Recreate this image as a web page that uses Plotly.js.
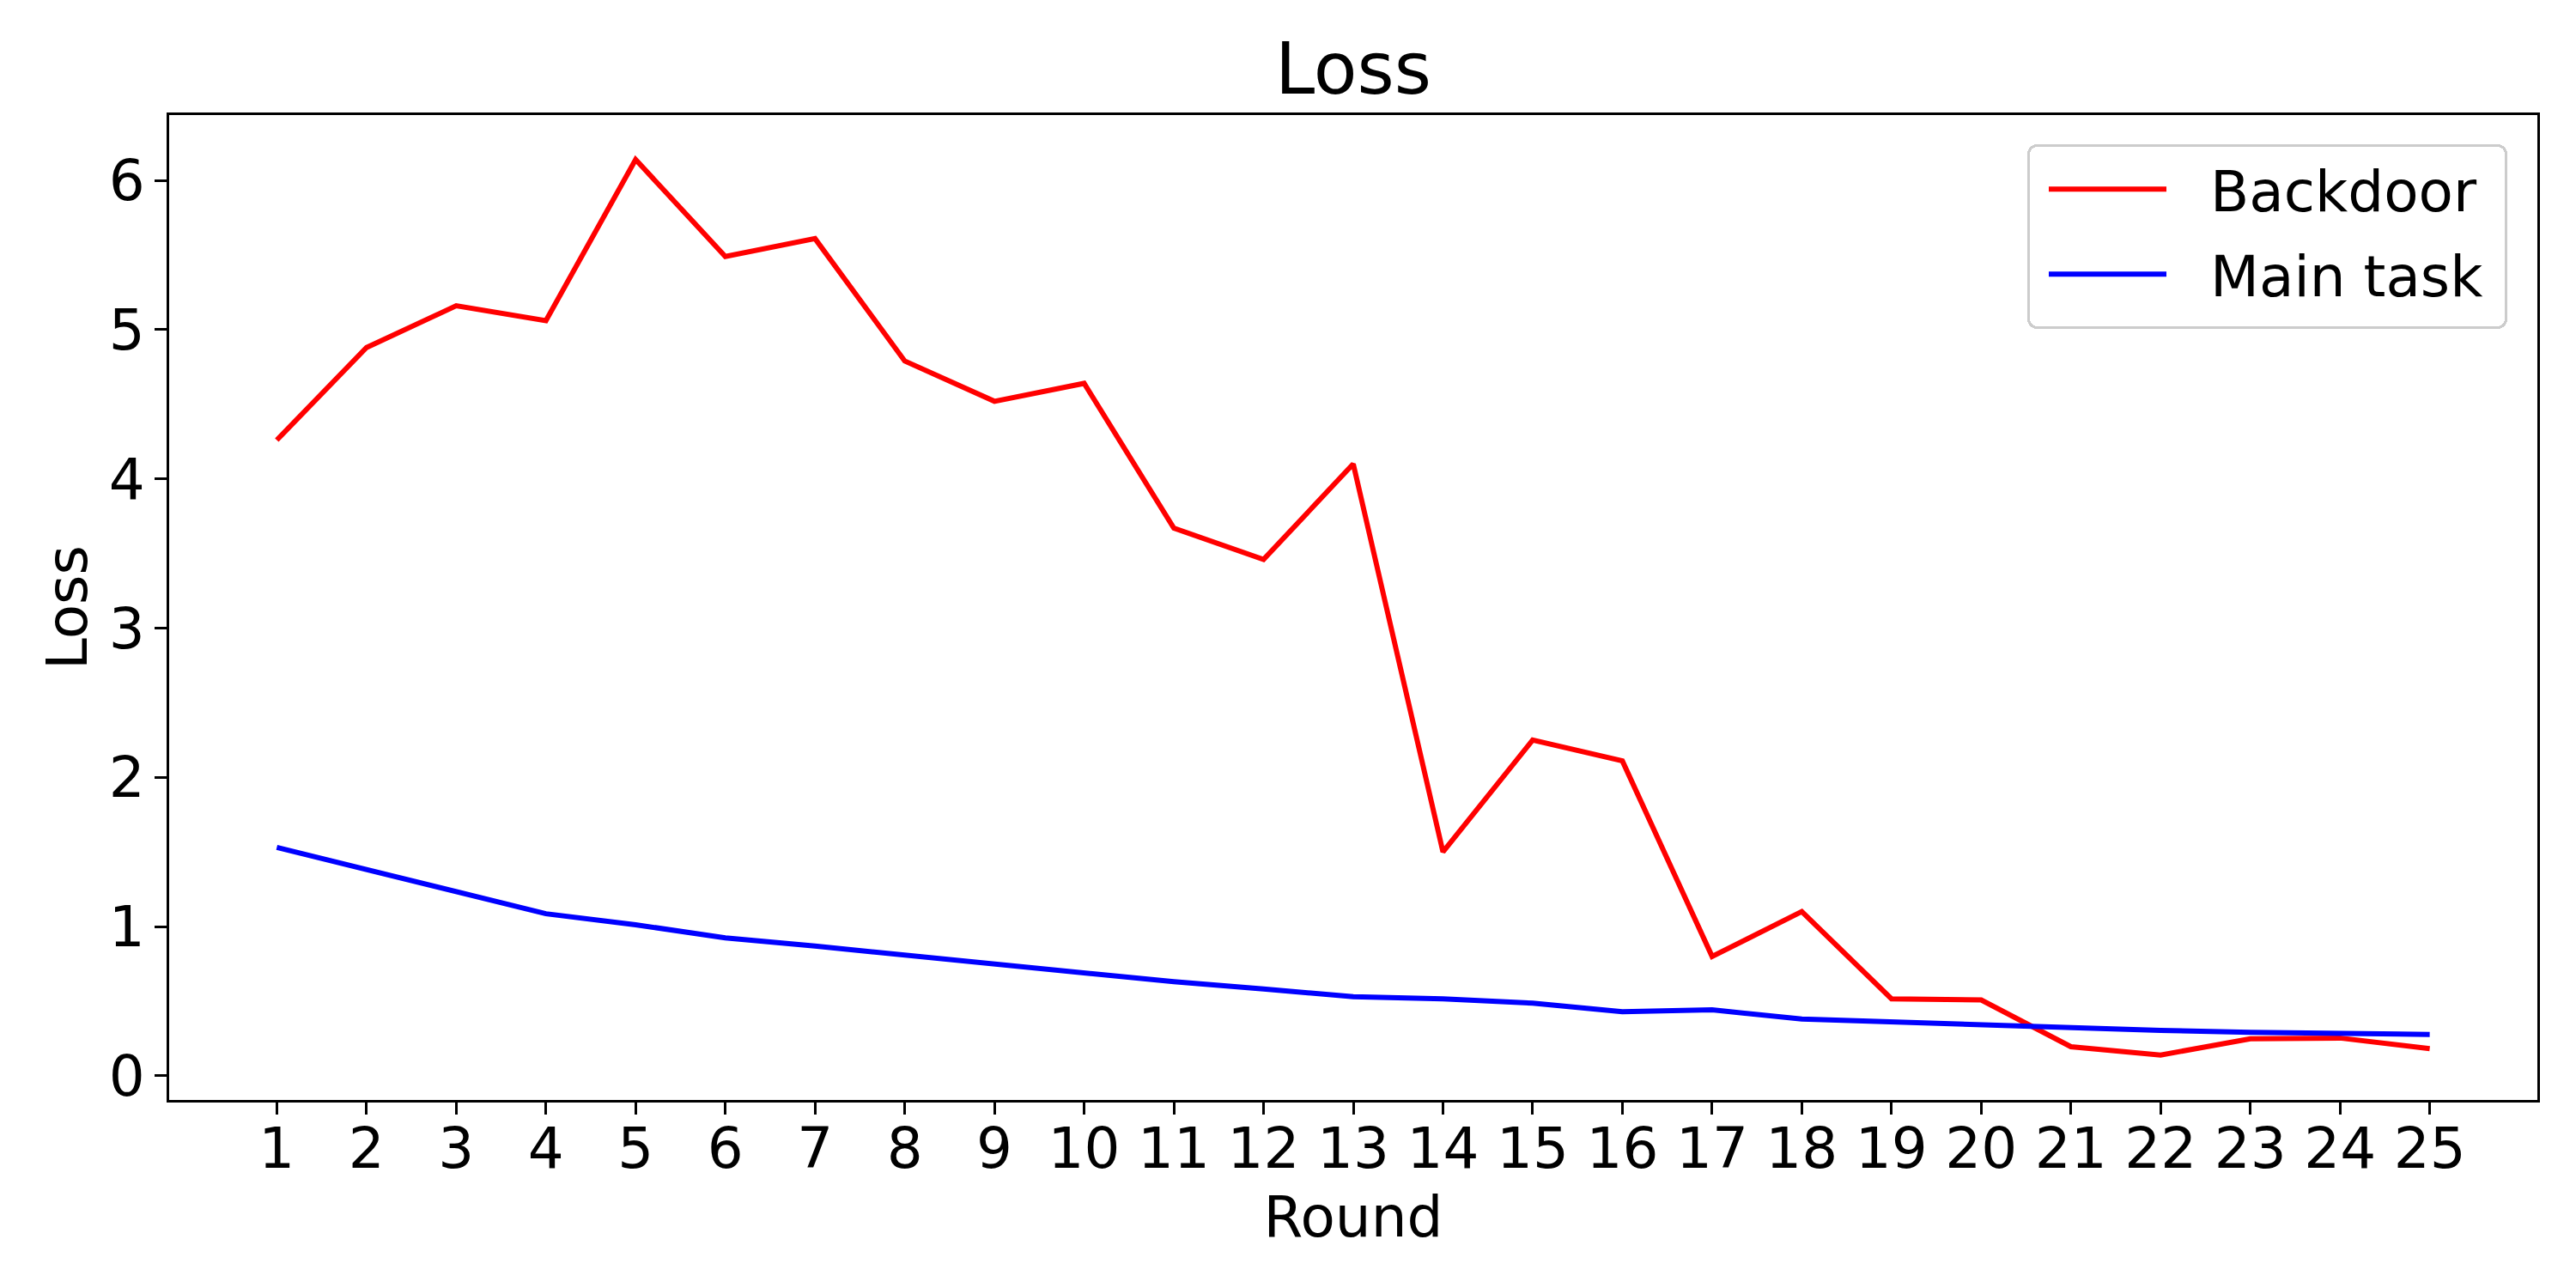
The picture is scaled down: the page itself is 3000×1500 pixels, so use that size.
<!DOCTYPE html>
<html>
<head>
<meta charset="utf-8">
<script src="https://cdn.plot.ly/plotly-3.0.1.min.js"></script>
<style>
  html, body { margin: 0; padding: 0; background: #ffffff; }
  #chart { width: 3000px; height: 1500px; }
</style>
</head>
<body>
<div id="chart"></div>
<script>
const rounds = [1, 2, 3, 4, 5, 6, 7, 8, 9, 10, 11, 12, 13, 14, 15, 16, 17, 18, 19, 20, 21, 22, 23, 24, 25];
const backdoorLoss = [4.26, 4.88, 5.16, 5.06, 6.14, 5.49, 5.61, 4.79, 4.52, 4.64, 3.67, 3.46, 4.10, 1.50, 2.25, 2.11, 0.80, 1.10, 0.516, 0.508, 0.195, 0.139, 0.248, 0.253, 0.182];
const mainTaskLoss = [1.53, 1.38, 1.233, 1.086, 1.012, 0.924, 0.869, 0.811, 0.745, 0.695, 0.630, 0.582, 0.530, 0.515, 0.487, 0.429, 0.442, 0.380, 0.360, 0.341, 0.325, 0.304, 0.291, 0.280, 0.277];
const seriesNames = ["Backdoor", "Main task"];
const xTickLabels = rounds.map(String);

const FONT = "DejaVu Sans, Liberation Sans, sans-serif";

const traces = [
  { x: rounds, y: backdoorLoss, name: seriesNames[0], legendgroup: "g1", type: "scatter", mode: "lines", line: { color: "#ff0000", width: 6 } },
  { x: rounds, y: mainTaskLoss, name: seriesNames[1], legendgroup: "g2", type: "scatter", mode: "lines", line: { color: "#0000ff", width: 6 } }
];

const layout = {
  width: 3000, height: 1500,
  paper_bgcolor: "#ffffff", plot_bgcolor: "#ffffff",
  font: { family: FONT, size: 66, color: "#000000" },
  margin: { l: 197, r: 45, t: 134, b: 219, pad: 0 },
  title: { text: "Loss", font: { family: FONT, size: 83, color: "#000000" }, x: 0.5, xref: "paper", xanchor: "center", y: 1, yref: "paper", yanchor: "bottom", pad: { b: 25 } },
  xaxis: {
    range: [-0.2, 26.2], tickmode: "array", tickvals: rounds, ticktext: xTickLabels,
    showgrid: false, zeroline: false, showline: true, mirror: true, linecolor: "#000000", linewidth: 3,
    ticks: "outside", ticklen: 14, tickwidth: 3, tickcolor: "#000000",
    tickfont: { family: FONT, size: 66, color: "#000000" }, ticklabelstandoff: -17,
    title: { text: "Round", font: { family: FONT, size: 66, color: "#000000" }, standoff: 19 }, automargin: false
  },
  yaxis: {
    range: [-0.162, 6.438], tickmode: "linear", tick0: 0, dtick: 1,
    showgrid: false, zeroline: false, showline: true, mirror: true, linecolor: "#000000", linewidth: 3,
    ticks: "outside", ticklen: 14, tickwidth: 3, tickcolor: "#000000",
    tickfont: { family: FONT, size: 66, color: "#000000" }, ticklabelstandoff: -2,
    title: { text: "Loss", font: { family: FONT, size: 66, color: "#000000" }, standoff: 4 }, automargin: false
  },
  showlegend: true,
  legend: { x: (2361 - 197) / 2758, y: 0.9704, xanchor: "left", yanchor: "top", xref: "paper", yref: "paper", bgcolor: "rgba(255,255,255,0.8)", bordercolor: "#cccccc", borderwidth: 3, font: { family: FONT, size: 66, color: "#000000" }, itemwidth: 200, tracegroupgap: 10 }
};

Plotly.newPlot("chart", traces, layout, { staticPlot: true, displayModeBar: false }).then(function (gd) {
  // matplotlib-style legend handles: shorter sample line with a gap before the label
  gd.querySelectorAll(".legend .legendlines path").forEach(function (p) {
    p.setAttribute("d", "M22,0h137");
  });
  // matplotlib-style legend frame: slightly wider and taller, rounded corners
  const bg = gd.querySelector(".legend .bg");
  if (bg) {
    const w = parseFloat(bg.getAttribute("width"));
    const h = parseFloat(bg.getAttribute("height"));
    if (!isNaN(w)) bg.setAttribute("width", w + 19);
    if (!isNaN(h)) bg.setAttribute("height", h + 11);
    bg.setAttribute("rx", 10);
    bg.setAttribute("ry", 10);
  }
});
</script>
</body>
</html>
